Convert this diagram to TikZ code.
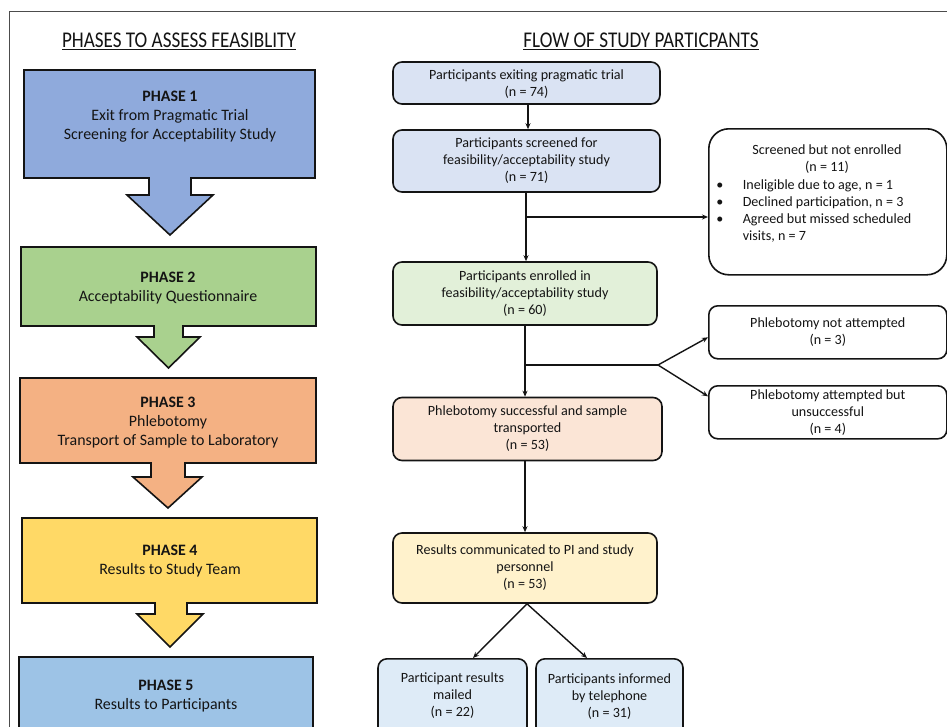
\documentclass[tikz,border=0pt]{standalone}
\usepackage{fontspec}
\setmainfont{Carlito}
\newfontfamily\condfont[FakeStretch=0.85]{Carlito}
\usetikzlibrary{arrows.meta}
\definecolor{ph1}{HTML}{8FAADC}
\definecolor{ph2}{HTML}{A9D18E}
\definecolor{ph3}{HTML}{F4B183}
\definecolor{ph4}{HTML}{FFD966}
\definecolor{ph5}{HTML}{9DC3E6}
\definecolor{fa}{HTML}{DAE3F3}
\definecolor{fc}{HTML}{E2F0D9}
\definecolor{fe}{HTML}{FBE5D6}
\definecolor{fh}{HTML}{FFF2CC}
\definecolor{fi}{HTML}{DEEBF7}
\definecolor{ink}{HTML}{141414}
\tikzset{
  phase/.style={draw=ink, line width=1.6pt, line join=miter},
  phtext/.style={align=center, font=\fontsize{15.9}{19}\selectfont, text=ink, inner sep=0pt},
  fbox/.style={draw=ink, line width=1.6pt, rounded corners=9pt, align=center,
    font=\fontsize{14.1}{17}\selectfont, text=ink, inner sep=0pt},
  conn/.style={draw=ink, line width=1.4pt},
  arr/.style={conn, -{Stealth[length=6pt,width=5pt]}},
  hdr/.style={font=\condfont\fontsize{22.5}{24}\selectfont, text=ink, inner sep=0pt}
}
\begin{document}
\begin{tikzpicture}[x=1pt,y=-1pt]
\clip (0,0) rectangle (947,726);
\fill[white] (0,0) rectangle (947,726);
% frame
\draw[draw=black!70, line width=1pt] (9,740) -- (9,11) -- (960,11);
% headers
\node[hdr] (h1) at (179,41) {\underline{PHASES TO ASSESS FEASIBLITY}};
\node[hdr] (h2) at (641,41) {\underline{FLOW OF STUDY PARTICPANTS}};
% phases
\draw[phase, fill=ph1] (24,70) -- (315,70) -- (315,178) -- (191,178) -- (191,195) -- (213,195) -- (170,235) -- (127,195) -- (149,195) -- (149,178) -- (24,178) -- cycle;
\draw[phase, fill=ph2] (21,247) -- (316,247) -- (316,326) -- (183,326) -- (183,337) -- (200,337) -- (168.5,368) -- (137,337) -- (154,337) -- (154,326) -- (21,326) -- cycle;
\draw[phase, fill=ph3] (20,378) -- (316,378) -- (316,463) -- (185,463) -- (185,477) -- (202,477) -- (168,508) -- (133,477) -- (151,477) -- (151,463) -- (20,463) -- cycle;
\draw[phase, fill=ph4] (22,518) -- (317,518) -- (317,603) -- (187,603) -- (187,614) -- (203,614) -- (170,647) -- (137,614) -- (155,614) -- (155,603) -- (22,603) -- cycle;
\draw[phase, fill=ph5] (19,657) -- (313,657) -- (313,760) -- (19,760) -- cycle;
\node[phtext] (p1) at (170,117) {\textbf{PHASE 1}\\Exit from Pragmatic Trial\\Screening for Acceptability Study};
\node[phtext] (p2) at (168,288) {\textbf{PHASE 2}\\Acceptability Questionnaire};
\node[phtext] (p3) at (168,423) {\textbf{PHASE 3}\\Phlebotomy\\Transport of Sample to Laboratory};
\node[phtext] (p4) at (170,561.5) {\textbf{PHASE 4}\\Results to Study Team};
\node[phtext] (p5) at (166,696) {\textbf{PHASE 5}\\Results to Participants};
% flow boxes
\node[fbox, fill=fa, minimum width=267pt, minimum height=42pt] (a) at (526.5,83) {};
\node[fbox, draw=none, fill=none] (at) at (526.5,84.5) {Participants exiting pragmatic trial\\(n = 74)};
\node[fbox, fill=fa, minimum width=267pt, minimum height=62pt] (b) at (526.5,161) {Participants screened for\\feasibility/acceptability study\\(n = 71)};
\node[fbox, fill=fc, minimum width=264pt, minimum height=63pt] (c) at (525,293.5) {Participants enrolled in\\feasibility/acceptability study\\(n = 60)};
\node[fbox, fill=fe, minimum width=269pt, minimum height=63pt] (e) at (527.5,429) {Phlebotomy successful and sample\\transported\\(n = 53)};
\node[fbox, fill=fh, minimum width=264pt, minimum height=70pt] (h) at (525,568) {Results communicated to PI and study\\personnel\\(n = 53)};
\node[fbox, fill=fi, minimum width=149pt, minimum height=90pt, anchor=north] (i) at (452.5,658) {};
\node[fbox, fill=fi, minimum width=147pt, minimum height=90pt, anchor=north] (j) at (609.5,658) {};
\node[fbox, draw=none, fill=none] (it) at (452.5,695.5) {Participant results\\mailed\\(n = 22)};
\node[fbox, draw=none, fill=none] (jt) at (609.5,697) {Participants informed\\by telephone\\(n = 31)};
% side boxes
\node[fbox, fill=white, rounded corners=20pt, minimum width=238pt, minimum height=146pt, anchor=north west] (d) at (708,128) {};
\node[fbox, draw=none, fill=none] (dt) at (827,159.5) {Screened but not enrolled\\(n = 11)};
\node[fbox, draw=none, fill=none, align=left, anchor=north west] (dl) at (715.5,178.5) {\makebox[26.5pt][l]{\textbullet}Ineligible due to age, n = 1\\\makebox[26.5pt][l]{\textbullet}Declined participation, n = 3\\\makebox[26.5pt][l]{\textbullet}Agreed but missed scheduled\\\makebox[26.5pt][l]{}visits, n = 7};
\node[fbox, fill=white, minimum width=238pt, minimum height=53pt, anchor=north west] (f) at (708,305) {Phlebotomy not attempted\\(n = 3)};
\node[fbox, fill=white, minimum width=238pt, minimum height=53pt, anchor=north west] (g) at (708,385) {Phlebotomy attempted but\\unsuccessful\\(n = 4)};
% connectors
\draw[arr] (a.south -| 528,0) -- (b.north -| 528,0);
\coordinate (br1) at (526,217);
\draw[arr] (b.south -| 526,0) -- (c.north -| 526,0);
\draw[arr] (br1) -- (br1 -| d.west);
\coordinate (br2) at (525,365);
\coordinate (fork) at (658,365);
\draw[arr] (c.south -| 525,0) -- (e.north -| 525,0);
\draw[conn] (br2) -- (fork);
\draw[arr] (fork) -- ([yshift=-5pt]f.west);
\draw[arr] (fork) -- ([yshift=16pt]g.west);
\draw[arr] (e.south -| 525,0) -- (h.north -| 525,0);
\draw[arr] (h.south -| 527,0) -- ([xshift=20.5pt]i.north);
\draw[arr] (h.south -| 527,0) -- ([xshift=-22.5pt]j.north);
\end{tikzpicture}
\end{document}
